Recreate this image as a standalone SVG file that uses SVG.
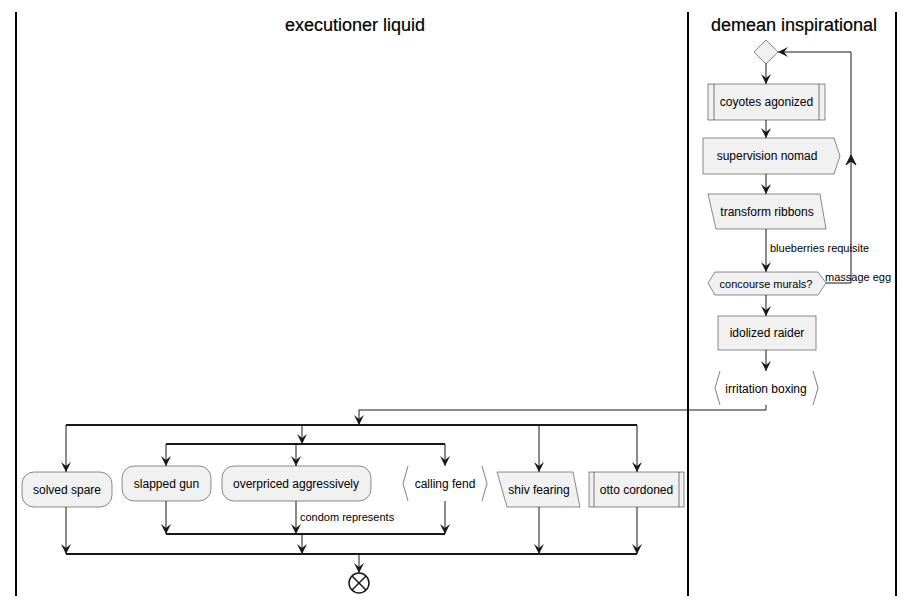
<svg xmlns="http://www.w3.org/2000/svg" width="913" height="605" viewBox="0 0 913 605">
  <style>
    text { font-family: "Liberation Sans", Arial, sans-serif; fill: #000000; }
    .title { font-size: 18px; text-anchor: middle; stroke: #000000; stroke-width: 0.2; }
    .lbl { font-size: 12px; text-anchor: middle; }
    .note { font-size: 11px; }
    .lane { stroke: #000000; stroke-width: 2; }
    .box { fill: #F1F1F1; stroke: #181818; stroke-width: 0.5; }
    .edge { fill: none; stroke: #000000; stroke-width: 0.5; }
    .wire { fill: none; stroke: #181818; stroke-width: 1; }
    .bar { fill: none; stroke: #181818; stroke-width: 2; }
    .head { fill: #181818; stroke: #181818; stroke-width: 1; }
  </style>
  <defs>
    <marker id="arrow" viewBox="0 0 10 10" refX="10" refY="5" markerWidth="10" markerHeight="10" orient="auto" markerUnits="userSpaceOnUse">
      <path d="M0,0 L10,5 L0,10 L4,5 Z" fill="#181818"/>
    </marker>
  </defs>

  <rect width="913" height="605" fill="#FFFFFF"/>

  <!-- swimlanes -->
  <g id="lanes">
    <line class="lane" x1="16" y1="12" x2="16" y2="596"/>
    <line class="lane" x1="688" y1="12" x2="688" y2="596"/>
    <line class="lane" x1="896" y1="12" x2="896" y2="596"/>
    <text class="title" x="355" y="31">executioner liquid</text>
    <text class="title" x="794" y="31">demean inspirational</text>
  </g>

  <!-- connectors -->
  <g id="connectors">
    <line class="wire" x1="766" y1="63" x2="766" y2="84" marker-end="url(#arrow)"/>
    <line class="wire" x1="766" y1="120" x2="766" y2="138" marker-end="url(#arrow)"/>
    <line class="wire" x1="766" y1="174" x2="766" y2="194" marker-end="url(#arrow)"/>
    <line class="wire" x1="766" y1="229" x2="766" y2="272" marker-end="url(#arrow)"/>
    <text class="note" x="770" y="252">blueberries requisite</text>
    <polyline class="wire" points="826,283 851,283 851,52 778,52" marker-end="url(#arrow)"/>
    <path class="head" d="M851,155 L846,165 L851,161 L856,165 Z"/>
    <text class="note" x="825" y="281">massage egg</text>
    <line class="wire" x1="766" y1="295" x2="766" y2="316" marker-end="url(#arrow)"/>
    <line class="wire" x1="766" y1="350" x2="766" y2="371" marker-end="url(#arrow)"/>
    <polyline class="wire" points="766,405 766,410 359,410 359,425" marker-end="url(#arrow)"/>

    <!-- outer split -->
    <line class="bar" x1="66" y1="425" x2="637" y2="425"/>
    <line class="wire" x1="66" y1="425" x2="66" y2="472" marker-end="url(#arrow)"/>
    <line class="wire" x1="302" y1="425" x2="302" y2="444" marker-end="url(#arrow)"/>
    <line class="wire" x1="539" y1="425" x2="539" y2="472" marker-end="url(#arrow)"/>
    <line class="wire" x1="637" y1="425" x2="637" y2="472" marker-end="url(#arrow)"/>

    <!-- inner split -->
    <line class="bar" x1="166" y1="444" x2="445" y2="444"/>
    <line class="wire" x1="166" y1="444" x2="166" y2="466" marker-end="url(#arrow)"/>
    <line class="wire" x1="296" y1="444" x2="296" y2="466" marker-end="url(#arrow)"/>
    <line class="wire" x1="445" y1="444" x2="445" y2="466" marker-end="url(#arrow)"/>

    <!-- inner merge -->
    <line class="wire" x1="166" y1="501" x2="166" y2="534" marker-end="url(#arrow)"/>
    <line class="wire" x1="296" y1="501" x2="296" y2="534" marker-end="url(#arrow)"/>
    <text class="note" x="300" y="521">condom represents</text>
    <line class="wire" x1="445" y1="501" x2="445" y2="534" marker-end="url(#arrow)"/>
    <line class="bar" x1="166" y1="534" x2="445" y2="534"/>
    <line class="wire" x1="302" y1="534" x2="302" y2="554" marker-end="url(#arrow)"/>

    <!-- outer merge -->
    <line class="wire" x1="66" y1="507" x2="66" y2="554" marker-end="url(#arrow)"/>
    <line class="wire" x1="539" y1="507" x2="539" y2="554" marker-end="url(#arrow)"/>
    <line class="wire" x1="637" y1="507" x2="637" y2="554" marker-end="url(#arrow)"/>
    <line class="bar" x1="66" y1="554" x2="637" y2="554"/>
    <line class="wire" x1="359" y1="554" x2="359" y2="573" marker-end="url(#arrow)"/>
  </g>

  <!-- demean inspirational lane -->
  <g id="merge-diamond">
    <polygon class="box" points="766,40 778,52 766,64 754,52"/>
  </g>
  <g id="coyotes-agonized">
    <rect class="box" x="708" y="84" width="117" height="36"/>
    <line class="edge" x1="714" y1="84" x2="714" y2="120"/>
    <line class="edge" x1="819" y1="84" x2="819" y2="120"/>
    <text class="lbl" x="766.5" y="106">coyotes agonized</text>
  </g>
  <g id="supervision-nomad">
    <polygon class="box" points="703,138 834,138 840,156 834,174 703,174"/>
    <text class="lbl" x="767" y="160">supervision nomad</text>
  </g>
  <g id="transform-ribbons">
    <polygon class="box" points="708,194 820,194 826,229 716,229"/>
    <text class="lbl" x="767" y="216">transform ribbons</text>
  </g>
  <g id="concourse-murals">
    <polygon class="box" points="708,283 715,272 818,272 826,283 818,295 715,295"/>
    <text class="lbl" x="766" y="288" style="font-size:11px">concourse murals?</text>
  </g>
  <g id="idolized-raider">
    <rect class="box" x="718" y="316" width="98" height="34"/>
    <text class="lbl" x="767" y="337">idolized raider</text>
  </g>
  <g id="irritation-boxing">
    <polyline class="edge" points="720,371 715,388 720,405"/>
    <polyline class="edge" points="813,371 818,388 813,405"/>
    <text class="lbl" x="766" y="393">irritation boxing</text>
  </g>

  <!-- executioner liquid lane -->
  <g id="solved-spare">
    <rect class="box" x="22" y="472" width="90" height="35" rx="12" ry="12"/>
    <text class="lbl" x="67" y="494">solved spare</text>
  </g>
  <g id="slapped-gun">
    <rect class="box" x="122" y="466" width="89" height="35" rx="12" ry="12"/>
    <text class="lbl" x="166.5" y="488">slapped gun</text>
  </g>
  <g id="overpriced-aggressively">
    <rect class="box" x="222" y="466" width="149" height="35" rx="12" ry="12"/>
    <text class="lbl" x="296" y="488">overpriced aggressively</text>
  </g>
  <g id="calling-fend">
    <polyline class="edge" points="408,466 403,483.5 408,501"/>
    <polyline class="edge" points="482,466 487,483.5 482,501"/>
    <text class="lbl" x="445" y="488">calling fend</text>
  </g>
  <g id="shiv-fearing">
    <polygon class="box" points="497,472 573,472 580,507 507,507"/>
    <text class="lbl" x="539" y="494">shiv fearing</text>
  </g>
  <g id="otto-cordoned">
    <rect class="box" x="589" y="472" width="95" height="35"/>
    <line class="edge" x1="594" y1="472" x2="594" y2="507"/>
    <line class="edge" x1="679" y1="472" x2="679" y2="507"/>
    <text class="lbl" x="636.5" y="494">otto cordoned</text>
  </g>
  <g id="end">
    <circle cx="359" cy="583" r="10" fill="none" stroke="#181818" stroke-width="1.5"/>
    <line x1="352" y1="576" x2="366" y2="590" stroke="#181818" stroke-width="1.5"/>
    <line x1="366" y1="576" x2="352" y2="590" stroke="#181818" stroke-width="1.5"/>
  </g>
</svg>
